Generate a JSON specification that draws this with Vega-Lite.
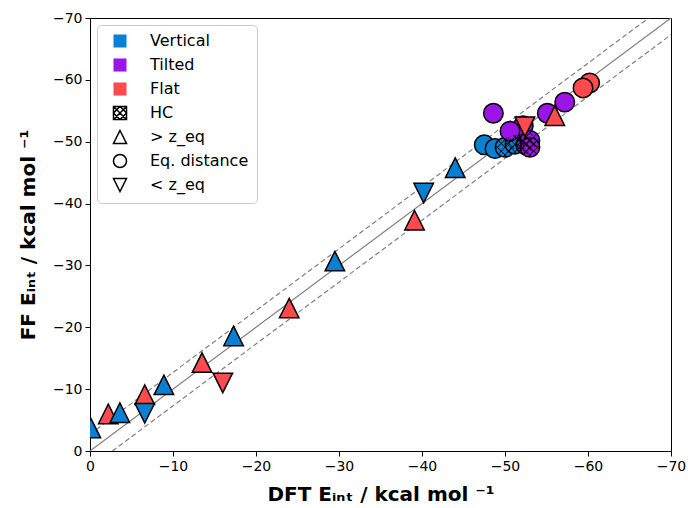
{
  "$schema": "https://vega.github.io/schema/vega-lite/v6.json",
  "width": 581,
  "height": 433,
  "autosize": {"type": "none"},
  "padding": {"left": 90, "top": 18, "right": 17, "bottom": 57},
  "background": "white",
  "config": {
    "font": "DejaVu Sans",
    "view": {"stroke": "black", "strokeWidth": 1},
    "axis": {
      "grid": false,
      "domainColor": "black",
      "tickColor": "black",
      "tickSize": 5,
      "labelFlush": false,
      "labelFont": "DejaVu Sans",
      "labelFontSize": 14,
      "labelColor": "black",
      "labelPadding": 3,
      "titleFont": "DejaVu Sans",
      "titleFontSize": 20,
      "titleFontWeight": "bold",
      "titleColor": "black"
    },
    "legend": {
      "orient": "top-left",
      "offset": 7,
      "padding": 8,
      "fillColor": "white",
      "strokeColor": "#cccccc",
      "cornerRadius": 4,
      "labelFont": "DejaVu Sans",
      "labelFontSize": 16,
      "labelColor": "black",
      "symbolSize": 170,
      "rowPadding": 4,
      "labelOffset": 22,
      "symbolOffset": 7,
      "labelLimit": 200
    }
  },
  "datasets": {
    "pts": [
      {"dft": -47.5, "ff": -49.5, "orient": "Vertical", "pos": "Eq. distance", "hc": false},
      {"dft": -48.8, "ff": -48.9, "orient": "Vertical", "pos": "Eq. distance", "hc": false},
      {"dft": -50.0, "ff": -49.1, "orient": "Vertical", "pos": "Eq. distance", "hc": true},
      {"dft": -51.2, "ff": -49.6, "orient": "Vertical", "pos": "Eq. distance", "hc": true},
      {"dft": -48.6, "ff": -54.6, "orient": "Tilted", "pos": "Eq. distance", "hc": false},
      {"dft": -52.2, "ff": -52.6, "orient": "Tilted", "pos": "Eq. distance", "hc": false},
      {"dft": -50.6, "ff": -51.7, "orient": "Tilted", "pos": "Eq. distance", "hc": false},
      {"dft": -52.5, "ff": -49.5, "orient": "Tilted", "pos": "Eq. distance", "hc": true},
      {"dft": -53.0, "ff": -50.2, "orient": "Tilted", "pos": "Eq. distance", "hc": true},
      {"dft": -53.0, "ff": -49.1, "orient": "Tilted", "pos": "Eq. distance", "hc": true},
      {"dft": -55.1, "ff": -54.6, "orient": "Tilted", "pos": "Eq. distance", "hc": false},
      {"dft": -57.2, "ff": -56.4, "orient": "Tilted", "pos": "Eq. distance", "hc": false},
      {"dft": -60.2, "ff": -59.5, "orient": "Flat", "pos": "Eq. distance", "hc": false},
      {"dft": -59.4, "ff": -58.7, "orient": "Flat", "pos": "Eq. distance", "hc": false},
      {"dft": -0.1, "ff": -3.7, "orient": "Vertical", "pos": "> z_eq", "hc": false},
      {"dft": -2.2, "ff": -6.0, "orient": "Flat", "pos": "> z_eq", "hc": false},
      {"dft": -3.6, "ff": -6.2, "orient": "Vertical", "pos": "> z_eq", "hc": false},
      {"dft": -6.6, "ff": -9.1, "orient": "Flat", "pos": "> z_eq", "hc": false},
      {"dft": -8.9, "ff": -10.7, "orient": "Vertical", "pos": "> z_eq", "hc": false},
      {"dft": -13.5, "ff": -14.3, "orient": "Flat", "pos": "> z_eq", "hc": false},
      {"dft": -17.3, "ff": -18.6, "orient": "Vertical", "pos": "> z_eq", "hc": false},
      {"dft": -24.0, "ff": -23.1, "orient": "Flat", "pos": "> z_eq", "hc": false},
      {"dft": -29.5, "ff": -30.7, "orient": "Vertical", "pos": "> z_eq", "hc": false},
      {"dft": -39.1, "ff": -37.3, "orient": "Flat", "pos": "> z_eq", "hc": false},
      {"dft": -44.0, "ff": -45.8, "orient": "Vertical", "pos": "> z_eq", "hc": false},
      {"dft": -56.0, "ff": -54.2, "orient": "Flat", "pos": "> z_eq", "hc": false},
      {"dft": -6.6, "ff": -6.1, "orient": "Vertical", "pos": "< z_eq", "hc": false},
      {"dft": -16.0, "ff": -11.0, "orient": "Flat", "pos": "< z_eq", "hc": false},
      {"dft": -40.2, "ff": -41.7, "orient": "Vertical", "pos": "< z_eq", "hc": false},
      {"dft": -52.4, "ff": -52.4, "orient": "Flat", "pos": "< z_eq", "hc": false}
    ],
    "lines": [
      {"dft": 0, "ff": 0, "g": "id"},
      {"dft": -70, "ff": -70, "g": "id"},
      {"dft": -2.7, "ff": 0, "g": "lo"},
      {"dft": -72.7, "ff": -70, "g": "lo"},
      {"dft": 0, "ff": -2.7, "g": "hi"},
      {"dft": -67.3, "ff": -70, "g": "hi"}
    ]
  },
  "encoding": {
    "x": {
      "field": "dft",
      "type": "quantitative",
      "scale": {"domain": [0, -70], "nice": false, "zero": false},
      "axis": {"values": [0, -10, -20, -30, -40, -50, -60, -70], "title": "DFT Eᵢₙₜ / kcal mol ⁻¹", "titlePadding": 11}
    },
    "y": {
      "field": "ff",
      "type": "quantitative",
      "scale": {"domain": [0, -70], "nice": false, "zero": false},
      "axis": {"values": [0, -10, -20, -30, -40, -50, -60, -70], "title": "FF Eᵢₙₜ / kcal mol ⁻¹", "titlePadding": 14}
    }
  },
  "layer": [
    {
      "data": {"name": "lines"},
      "transform": [{"filter": "datum.g === 'id'"}],
      "mark": {"type": "line", "color": "#808080", "strokeWidth": 1.2, "clip": true},
      "encoding": {"detail": {"field": "g"}}
    },
    {
      "data": {"name": "lines"},
      "transform": [{"filter": "datum.g !== 'id'"}],
      "mark": {"type": "line", "color": "#808080", "strokeWidth": 1.2, "strokeDash": [5, 3], "clip": true},
      "encoding": {"detail": {"field": "g"}}
    },
    {
      "data": {"name": "pts"},
      "transform": [{"filter": "datum.pos === 'Eq. distance'"}],
      "mark": {"type": "point", "filled": true, "opacity": 1, "strokeWidth": 1.5, "size": 380, "clip": true},
      "encoding": {
        "color": {
          "field": "orient",
          "type": "nominal",
          "scale": {
            "domain": ["Vertical", "Tilted", "Flat", "HC", "> z_eq", "Eq. distance", "< z_eq"],
            "range": ["#0a80d2", "#9b14e8", "#ff4a50", "white", "white", "white", "white"]
          },
          "legend": {"title": null}
        },
        "stroke": {
          "field": "pos",
          "type": "nominal",
          "scale": {
            "domain": ["Vertical", "Tilted", "Flat", "HC", "> z_eq", "Eq. distance", "< z_eq"],
            "range": ["transparent", "transparent", "transparent", "black", "black", "black", "black"]
          },
          "legend": {"title": null}
        },
        "shape": {
          "field": "pos",
          "type": "nominal",
          "scale": {
            "domain": ["Vertical", "Tilted", "Flat", "HC", "> z_eq", "Eq. distance", "< z_eq"],
            "range": ["square", "square", "square", "M-1,-1H1V1H-1Z M-1,-1L1,1 M-1,1L1,-1 M0,-1L1,0L0,1L-1,0Z", "M0,-1L1,1L-1,1Z", "circle", "M0,1L1,-1L-1,-1Z"]
          },
          "legend": {"title": null}
        }
      }
    },
    {
      "data": {"name": "pts"},
      "transform": [{"filter": "datum.hc"}],
      "mark": {
        "type": "point",
        "filled": false,
        "opacity": 1,
        "stroke": "black",
        "strokeWidth": 1,
        "size": 380,
        "clip": true,
        "shape": "M0.68,-0.68L-0.68,0.68M0.95,-0.17L-0.17,0.95M0.17,-0.95L-0.95,0.17M0.68,0.68L-0.68,-0.68M0.95,0.17L-0.17,-0.95M0.17,0.95L-0.95,-0.17"
      },
      "encoding": {}
    },
    {
      "data": {"name": "pts"},
      "transform": [{"filter": "datum.pos !== 'Eq. distance'"}],
      "mark": {"type": "point", "filled": true, "opacity": 1, "strokeWidth": 1.5, "size": 380, "clip": true},
      "encoding": {
        "color": {"field": "orient", "type": "nominal", "legend": {"title": null}},
        "stroke": {"field": "pos", "type": "nominal", "legend": {"title": null}},
        "shape": {"field": "pos", "type": "nominal", "legend": {"title": null}}
      }
    }
  ]
}
